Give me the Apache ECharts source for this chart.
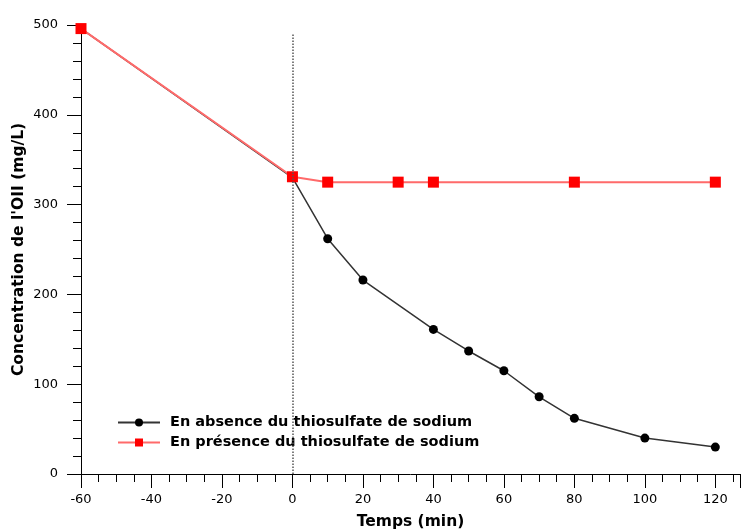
<!DOCTYPE html>
<html>
<head>
<meta charset="UTF-8">
<title></title>
<script src="https://cdn.jsdelivr.net/npm/echarts@6/dist/echarts.min.js"></script>
<style>
  body { margin: 0; background: #fff; }
  #container { width: 742px; height: 531px; }
</style>
</head>
<body>
<div id="container"></div>
<script type="text/javascript">
    // données
    var tempsAbsence = [-60, 0, 10, 20, 40, 50, 60, 70, 80, 100, 120];
    var concAbsence = [496, 330, 262, 216, 161, 137, 115, 86, 62, 40, 30];
    var tempsPresence = [-60, 0, 10, 30, 40, 80, 120];
    var concPresence = [496, 331, 325, 325, 325, 325, 325];
    var nomAbsence = 'En absence du thiosulfate de sodium';
    var nomPresence = 'En présence du thiosulfate de sodium';

    function paires(xs, ys) {
        var out = [];
        for (var i = 0; i < xs.length; i++) out.push([xs[i], ys[i]]);
        return out;
    }

    var police = 'DejaVu Sans';
    var mychart = echarts.init(document.getElementById('container'));
    var option = {
        animation: false,
        grid: { left: 81, right: 2, top: 25, bottom: 57, outerBoundsMode: 'none' },
        legend: {
            left: 112, top: 410, orient: 'vertical', itemGap: 5,
            itemWidth: 42, itemHeight: 10,
            textStyle: { fontFamily: police, fontWeight: 'bold', fontSize: 14.5, color: '#000', padding: [0, 0, 0, 5] },
            data: [nomAbsence, nomPresence]
        },
        xAxis: {
            type: 'value', min: -60, max: 127, interval: 20,
            name: 'Temps (min)', nameLocation: 'middle', nameGap: 40,
            nameTextStyle: { fontFamily: police, fontWeight: 'bold', fontSize: 15.5, color: '#000' },
            axisLine: { show: true, onZero: false, lineStyle: { color: '#000', width: 1 } },
            axisTick: { length: 14, lineStyle: { color: '#000' } },
            minorTick: { show: true, splitNumber: 4, length: 8, lineStyle: { color: '#000' } },
            axisLabel: { margin: 19, fontFamily: police, fontSize: 13, color: '#000',
                formatter: function (v) { return v > 120 ? '' : v; } },
            splitLine: { show: false }
        },
        yAxis: {
            type: 'value', min: 0, max: 500, interval: 100,
            name: "Concentration de l'OII (mg/L)", nameLocation: 'middle', nameGap: 54,
            nameMoveOverlap: false,
            nameTextStyle: { fontFamily: police, fontWeight: 'bold', fontSize: 15.5, color: '#000' },
            axisLine: { show: true, onZero: false, lineStyle: { color: '#000', width: 1 } },
            axisTick: { length: 14, lineStyle: { color: '#000' } },
            minorTick: { show: true, splitNumber: 5, length: 8, lineStyle: { color: '#000' } },
            axisLabel: { margin: 23, fontFamily: police, fontSize: 13, color: '#000' },
            splitLine: { show: false }
        },
        series: [{
            name: nomAbsence,
            type: 'line',
            data: paires(tempsAbsence, concAbsence),
            symbol: 'circle', symbolSize: 9,
            itemStyle: { color: '#000' },
            lineStyle: { color: '#333', width: 1.5 },
            markLine: {
                silent: true, symbol: 'none', label: { show: false },
                lineStyle: { color: '#555', type: 'dotted', width: 1.5 },
                data: [[{ coord: [0, 0] }, { coord: [0, 491] }]]
            }
        }, {
            name: nomPresence,
            type: 'line',
            data: paires(tempsPresence, concPresence),
            symbol: 'rect', symbolSize: 11,
            itemStyle: { color: '#ff0000' },
            lineStyle: { color: '#ff6a6a', width: 2 }
        }]
    };
    mychart.setOption(option);
</script>
</body>
</html>
